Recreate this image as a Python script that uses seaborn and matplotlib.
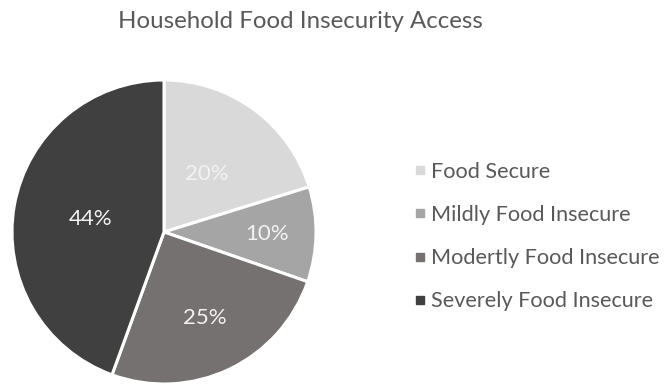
import matplotlib
matplotlib.use("Agg")
import matplotlib.pyplot as plt
import seaborn as sns
from matplotlib.lines import Line2D
import numpy as np

categories = ["Food Secure", "Mildly Food Insecure", "Modertly Food Insecure", "Severely Food Insecure"]
values = [20, 10, 25, 44]
labels = ["20%", "10%", "25%", "44%"]
colors = ["#D9D9D9", "#A5A5A5", "#767171", "#404040"]
label_dist = [0.47, 0.68, 0.63, 0.49]

sns.set_theme(style="white")
plt.rcParams['font.family'] = ['Lato', 'DejaVu Sans']

fig = plt.figure(figsize=(6.68, 3.85), dpi=100)
ax = fig.add_axes([12/668, 1/385, 304/668, 304/385])
wedges, texts = ax.pie(values, colors=colors, startangle=90, counterclock=False,
                       radius=1, wedgeprops=dict(edgecolor="white", linewidth=2.2))
total = sum(values)
acc = 0
for v, lab, d in zip(values, labels, label_dist):
    mid = np.deg2rad(90 - 360 * (acc + v / 2) / total)
    acc += v
    ax.text(d * np.cos(mid), d * np.sin(mid), lab, ha="center", va="center",
            color="#F2F2F2", fontsize=16)
ax.set_xlim(-1, 1)
ax.set_ylim(-1, 1)
ax.set_aspect("equal")
ax.axis("off")

fig.text(300/668, 1 - 22/385, "Household Food Insecurity Access", ha="center", va="center",
         color="#595959", fontsize=17.3)

handles = [Line2D([], [], marker="s", linestyle="none", markersize=6,
                  markerfacecolor=c, markeredgecolor=c) for c in colors]
fig.legend(handles, categories, loc="center left", bbox_to_anchor=(413/668, 1 - 236.5/385),
           frameon=False, fontsize=15.6, labelcolor="#595959", labelspacing=1.07,
           handletextpad=0.25, handlelength=0.6, borderpad=0, borderaxespad=0)

fig.savefig("out.png", dpi=100)
